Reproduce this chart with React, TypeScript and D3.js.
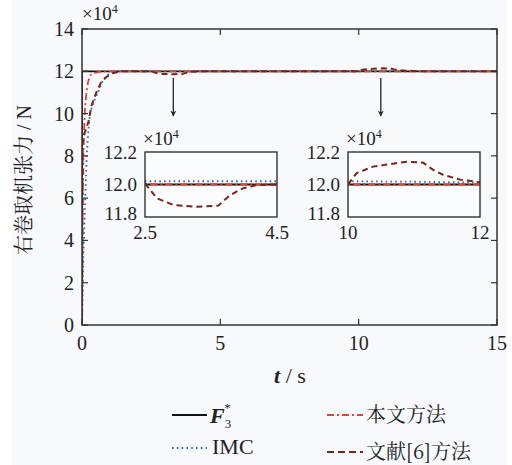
import React from "react";
import * as d3 from "d3";

// ---- data (values in units of 1e4 N) ----
const REF_T = [0, 0, 15];
const REF_V = [0, 12, 12];

const RED_T = [0, 0.02, 0.05, 0.08, 0.11, 0.16, 0.22, 0.29, 0.4, 0.55, 0.77, 1.0, 15];
const RED_V = [0, 4.5, 8.0, 9.4, 10.3, 11.0, 11.5, 11.8, 11.9, 11.96, 12.0, 12.0, 12.0];

const IMC_T = [0, 0.05, 0.11, 0.17, 0.23, 0.29, 0.38, 0.47, 0.59, 0.68, 0.77, 0.95, 1.13, 1.5, 10, 11, 12, 15];
const IMC_V = [0, 3.3, 5.7, 8.0, 9.2, 10.0, 10.4, 10.7, 11.04, 11.35, 11.6, 11.85, 11.98, 12.02, 12.02, 12.017, 12.012, 12.01];

const REF6_T = [0, 0.02, 0.1, 0.23, 0.35, 0.53, 0.7, 0.9, 1.13, 1.4, 2.5, 2.68, 2.93, 3.28, 3.61, 3.79, 3.98, 4.19, 4.45, 10, 10.13, 10.38, 10.64, 10.89, 11.14, 11.29, 11.44, 11.7, 11.97, 12.3, 15];
const REF6_V = [0, 8.6, 9.1, 9.6, 10.4, 11.04, 11.5, 11.75, 11.92, 12.0, 12.007, 11.915, 11.874, 11.863, 11.87, 11.935, 11.976, 11.997, 12.0, 12.0, 12.07, 12.11, 12.126, 12.14, 12.134, 12.09, 12.06, 12.03, 12.015, 12.005, 12.0];

const X_TICKS = [0, 5, 10, 15];
const Y_TICKS = [0, 2, 4, 6, 8, 10, 12, 14];
const INSET_Y_TICKS = [12.2, 12.0, 11.8];
const INSET1_X = [2.5, 4.5];
const INSET2_X = [10, 12];
const ARROW_T = [3.3, 10.8];

const SERIES = [
  { name: "ref", t: REF_T, v: REF_V, color: "#111111", dash: "none", width: 1.8 },
  { name: "imc", t: IMC_T, v: IMC_V, color: "#2a68c4", dash: "1.6,3.2", width: 1.8 },
  { name: "red", t: RED_T, v: RED_V, color: "#e5432c", dash: "7,3,2,3", width: 1.8 },
  { name: "ref6", t: REF6_T, v: REF6_V, color: "#7a2416", dash: "6,4", width: 2 },
];

const SERIF = '"Liberation Serif", "Times New Roman", Tinos, "DejaVu Serif", serif';
const CJK = '"Noto Serif CJK SC", "Noto Sans CJK SC", sans-serif';
const sf = { fontFamily: SERIF };

function Lines({ xs, ys, clip }: { xs: any; ys: any; clip?: string }) {
  return (
    <g clipPath={clip ? `url(#${clip})` : undefined}>
      {SERIES.map((s) => {
        const pts = s.t.map((t, i) => [t, s.v[i]] as [number, number]);
        const line = d3.line<[number, number]>().x((d) => xs(d[0])).y((d) => ys(d[1]));
        return (
          <path key={s.name} d={line(pts) || ""} fill="none" stroke={s.color}
            strokeWidth={s.width} strokeDasharray={s.dash} strokeLinecap="butt" />
        );
      })}
    </g>
  );
}

function Inset({ x0, x1, y0, y1, dom }: { x0: number; x1: number; y0: number; y1: number; dom: number[] }) {
  const xs = d3.scaleLinear().domain(dom).range([x0, x1]);
  const ys = d3.scaleLinear().domain([11.8, 12.2]).range([y1, y0]);
  const id = `clip${dom[0]}`.replace(".", "_");
  return (
    <g>
      <defs>
        <clipPath id={id}><rect x={x0} y={y0} width={x1 - x0} height={y1 - y0} /></clipPath>
      </defs>
      <rect x={x0} y={y0} width={x1 - x0} height={y1 - y0} fill="#fbfcfe" />
      <Lines xs={xs} ys={ys} clip={id} />
      <rect x={x0} y={y0} width={x1 - x0} height={y1 - y0} fill="none" stroke="#333" strokeWidth={1.4} />
      {INSET_Y_TICKS.map((v, i) => (
        <text key={v} x={x0 - 8} y={ys(v) + (i === 2 ? -4 : 0)} textAnchor="end" dominantBaseline="central"
          style={sf} fontSize={19} fill="#222">{v.toFixed(1)}</text>
      ))}
      {dom.map((v) => (
        <text key={v} x={xs(v)} y={y1 + 15} textAnchor="middle" dominantBaseline="central"
          style={sf} fontSize={19} fill="#222">{String(v)}</text>
      ))}
      <text x={x0 - 2} y={y0 - 7} style={sf} fontSize={19} fill="#222">
        ×10<tspan fontSize={12} dy={-7}>4</tspan>
      </text>
    </g>
  );
}

export default function App() {
  const W = 512, H = 465;
  const L = 82, R = 497, T = 29, B = 325;
  const x = d3.scaleLinear().domain([0, 15]).range([L, R]);
  const y = d3.scaleLinear().domain([0, 14]).range([B, T]);
  const tk = 6;

  return (
    <svg width={W} height={H} style={{ position: "absolute", left: 0, top: 0 }}>
      <rect x={0} y={0} width={W} height={H} fill="#ffffff" />
      <rect x={12} y={0} width={495} height={H} fill="#f8f9fc" />
      <defs>
        <clipPath id="mainclip"><rect x={L} y={T} width={R - L} height={B - T} /></clipPath>
      </defs>

      <Lines xs={x} ys={y} clip="mainclip" />

      {/* axes box */}
      <rect x={L} y={T} width={R - L} height={B - T} fill="none" stroke="#333" strokeWidth={1.5} />
      {X_TICKS.map((v) => (
        <g key={"x" + v}>
          <line x1={x(v)} x2={x(v)} y1={B} y2={B - tk} stroke="#333" strokeWidth={1.2} />
          <line x1={x(v)} x2={x(v)} y1={T} y2={T + tk} stroke="#333" strokeWidth={1.2} />
          <text x={x(v)} y={B + 18} textAnchor="middle" dominantBaseline="central"
            style={sf} fontSize={20} fill="#222">{v}</text>
        </g>
      ))}
      {Y_TICKS.map((v) => (
        <g key={"y" + v}>
          <line x1={L} x2={L + tk} y1={y(v)} y2={y(v)} stroke="#333" strokeWidth={1.2} />
          <line x1={R} x2={R - tk} y1={y(v)} y2={y(v)} stroke="#333" strokeWidth={1.2} />
          <text x={L - 8} y={y(v)} textAnchor="end" dominantBaseline="central"
            style={sf} fontSize={20} fill="#222">{v}</text>
        </g>
      ))}
      <text x={L} y={20} style={sf} fontSize={19} fill="#222">
        ×10<tspan fontSize={12} dy={-7}>4</tspan>
      </text>

      {/* arrows */}
      <defs>
        <marker id="arr" viewBox="0 0 10 10" refX={9} refY={5} markerWidth={6} markerHeight={9} orient="auto" markerUnits="userSpaceOnUse">
          <path d="M0,0 L10,5 L0,10 L3,5 Z" fill="#222" />
        </marker>
      </defs>
      {ARROW_T.map((t) => (
        <line key={t} x1={x(t)} x2={x(t)} y1={78} y2={116} stroke="#222" strokeWidth={1.3} markerEnd="url(#arr)" />
      ))}

      <Inset x0={145} x1={277} y0={152} y1={217} dom={INSET1_X} />
      <Inset x0={348} x1={480} y0={152} y1={217} dom={INSET2_X} />

      {/* axis labels */}
      <text x={290} y={383} textAnchor="middle" style={sf} fontSize={22} fill="#222">
        <tspan fontStyle="italic" fontWeight="bold">t</tspan> / s
      </text>
      <text transform={`translate(31,${(T + B) / 2 + 3}) rotate(-90)`} textAnchor="middle" fontSize={20} fill="#222">
        <tspan style={{ fontFamily: CJK }}>右卷取机张力</tspan><tspan style={sf}> / N</tspan>
      </text>

      {/* legend */}
      <g>
        <line x1={172} x2={207} y1={415} y2={415} stroke="#111" strokeWidth={1.8} />
        <text x={210} y={423} style={sf} fontSize={22} fill="#222">
          <tspan fontStyle="italic" fontWeight="bold">F</tspan>
          <tspan fontSize={13} dy={5}>3</tspan>
          <tspan fontSize={13} dx={-7} dy={-16}>*</tspan>
        </text>
        <line x1={172} x2={207} y1={448} y2={448} stroke="#2a68c4" strokeWidth={1.8} strokeDasharray="1.6,3.2" />
        <text x={212} y={454} style={sf} fontSize={22} fill="#222">IMC</text>

        <line x1={327} x2={363} y1={415} y2={415} stroke="#e5432c" strokeWidth={1.8} strokeDasharray="7,3,2,3" />
        <text x={366} y={422} style={{ fontFamily: CJK }} fontSize={20} fill="#222">本文方法</text>
        <line x1={327} x2={363} y1={452} y2={452} stroke="#7a2416" strokeWidth={2} strokeDasharray="7,4" />
        <text x={366} y={459} style={{ fontFamily: CJK }} fontSize={20} fill="#222">文献[6]方法</text>
      </g>
    </svg>
  );
}
